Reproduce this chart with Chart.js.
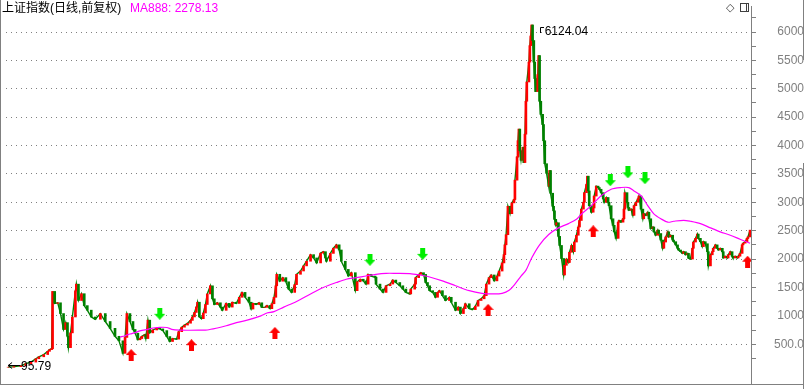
<!DOCTYPE html>
<html><head><meta charset="utf-8">
<script src="https://cdn.jsdelivr.net/npm/chart.js@4.4.1/dist/chart.umd.min.js"></script>
<style>html,body{margin:0;padding:0;background:#fff;overflow:hidden}</style>
</head><body>
<canvas id="c" width="804" height="389"></canvas>
<script>
// ---- data ----
const titleText = '上证指数(日线,前复权)';
const maName = 'MA888';
const dates = [
1990.53,1990.72,1990.95,1991.11,1991.28,1991.44,1991.54,1991.70,1991.83,1991.89,
1991.96,1991.99,1992.06,1992.16,1992.25,1992.35,1992.42,1992.48,1992.51,1992.58,
1992.64,1992.74,1992.77,1992.84,1992.94,1993.03,1993.13,1993.26,1993.39,1993.56,
1993.72,1993.88,1994.04,1994.17,1994.30,1994.37,1994.43,1994.53,1994.63,1994.70,
1994.79,1994.86,1994.92,1995.02,1995.05,1995.12,1995.18,1995.28,1995.41,1995.51,
1995.61,1995.74,1995.84,1995.93,1996.06,1996.13,1996.23,1996.32,1996.42,1996.52,
1996.58,1996.65,1996.71,1996.75,1996.81,1996.88,1996.94,1997.01,1997.07,1997.17,
1997.24,1997.30,1997.40,1997.50,1997.56,1997.69,1997.79,1997.89,1998.02,1998.12,
1998.21,1998.31,1998.44,1998.51,1998.57,1998.67,1998.77,1998.86,1998.96,1999.03,
1999.13,1999.19,1999.26,1999.32,1999.35,1999.45,1999.55,1999.65,1999.74,1999.84,
1999.94,2000.00,2000.13,2000.23,2000.33,2000.46,2000.56,2000.66,2000.79,2000.88,
2000.95,2000.98,2001.11,2001.21,2001.31,2001.40,2001.47,2001.60,2001.70,2001.80,
2001.93,2001.99,2002.09,2002.19,2002.28,2002.35,2002.45,2002.58,2002.61,2002.74,
2002.84,2002.94,2003.07,2003.16,2003.26,2003.39,2003.49,2003.59,2003.72,2003.75,
2003.88,2003.91,2004.01,2004.08,2004.17,2004.24,2004.30,2004.37,2004.47,2004.56,
2004.63,2004.69,2004.79,2004.89,2005.02,2005.08,2005.22,2005.31,2005.38,2005.48,
2005.54,2005.67,2005.77,2005.87,2005.96,2006.06,2006.16,2006.23,2006.32,2006.39,
2006.49,2006.58,2006.65,2006.75,2006.81,2006.84,2006.88,2006.94,2007.01,2007.07,
2007.14,2007.17,2007.24,2007.27,2007.30,2007.33,2007.37,2007.43,2007.46,2007.50,
2007.53,2007.56,2007.63,2007.66,2007.69,2007.72,2007.75,2007.79,2007.82,2007.85,
2007.92,2007.95,2007.98,2008.02,2008.08,2008.11,2008.15,2008.21,2008.28,2008.31,
2008.34,2008.41,2008.44,2008.47,2008.51,2008.54,2008.60,2008.64,2008.70,2008.77,
2008.80,2008.86,2008.93,2008.96,2009.03,2009.09,2009.12,2009.19,2009.25,2009.29,
2009.35,2009.42,2009.45,2009.52,2009.55,2009.58,2009.61,2009.68,2009.74,2009.77,
2009.84,2009.90,2009.94,2010.00,2010.07,2010.10,2010.17,2010.23,2010.26,2010.33,
2010.39,2010.43,2010.49,2010.56,2010.59,2010.65,2010.72,2010.75,2010.78,2010.85,
2010.88,2010.91,2010.98,2011.04,2011.08,2011.14,2011.21,2011.24,2011.31,2011.37,
2011.40,2011.47,2011.53,2011.57,2011.63,2011.70,2011.73,2011.79,2011.86,2011.89,
2011.96,2012.02,2012.06,2012.12,2012.19,2012.22,2012.28,2012.35,2012.38,2012.45,
2012.51,2012.54,2012.61,2012.67,2012.71,2012.77,2012.84,2012.87,2012.93,2013.00,
2013.03,2013.10,2013.16,2013.19,2013.26,2013.32,2013.36,2013.42,2013.49,2013.52,
2013.59,2013.65,2013.68,2013.75,2013.81,2013.85,2013.91,2013.98,2014.01,2014.07,
2014.14,2014.17,2014.24,2014.30,2014.33,2014.40,2014.47,2014.50,2014.56,2014.63,
2014.66,2014.73,2014.79,2014.82,2014.89
];
const closes = [
95.79,105,120,157,185,244,279,318,375,405,
420,1430,1220,1230,1040,760,880,640,440,700,
980,1440,1558,1270,1390,1180,1100,980,940,1040,
900,780,640,560,340,620,1040,900,760,694,
578,600,640,670,600,924,700,751,780,770,
740,635,548,600,590,721,800,837,870,920,
981,1060,1154,1240,981,950,1050,1200,1386,1529,
1300,1200,1230,1154,1097,1220,1154,1240,1218,1327,
1413,1330,1240,1120,1220,1200,1230,1150,1150,1183,
1126,1213,1327,1529,1732,1610,1673,1600,1472,1413,
1550,1732,1790,1880,1962,2078,2020,1932,2105,2130,
2020,1962,2100,2192,2251,2160,1962,1818,1702,1760,
1443,1600,1645,1616,1559,1732,1700,1680,1559,1472,
1413,1530,1560,1630,1587,1530,1472,1413,1386,1470,
1559,1673,1730,1760,1730,1587,1530,1443,1413,1327,
1413,1443,1356,1270,1327,1240,1097,1154,1040,1126,
1213,1126,1110,1170,1270,1300,1356,1559,1673,1720,
1616,1700,1789,1932,2078,2251,2429,2930,2800,2990,
3050,3390,3800,4085,4290,3910,3740,3970,3700,4200,
4780,5120,5470,5760,5930,6124.04,5850,5470,5180,4950,
5250,5585,4780,4550,4370,4085,3680,3510,3280,3560,
3160,2930,2850,2700,2600,2640,2400,2240,2010,1720,
1890,2000,1940,2120,2240,2130,2300,2420,2565,2680,
2880,3000,3170,3315,3460,3200,2940,2825,2900,3110,
3285,3260,3230,3170,3060,3000,3085,3000,2940,2710,
2595,2480,2365,2650,2680,2650,2710,2880,3170,3000,
2910,2860,2880,2770,2940,3000,3060,3110,2880,2710,
2800,2770,2825,2710,2535,2565,2480,2420,2510,2450,
2335,2190,2300,2390,2480,2390,2420,2335,2306,2250,
2190,2160,2130,2100,2130,2075,2100,2015,2000,2190,
2300,2365,2440,2365,2306,2220,2306,2270,2130,1880,
2075,2130,2190,2250,2190,2160,2190,2130,2020,2050,
2020,2075,2130,2050,2020,2050,2020,2050,2100,2250,
2280,2305,2365,2390,2510
];
const maDates = [
1994.21,1994.37,1994.53,1994.70,1994.86,1995.12,1995.35,1995.51,1995.74,1995.90,
1996.16,1996.49,1996.81,1997.07,1997.40,1997.69,1997.95,1998.38,1998.83,1999.03,
1999.26,1999.58,2000.00,2000.46,2000.88,2001.31,2001.63,2001.96,2002.28,2002.61,
2002.94,2003.26,2003.72,2004.04,2004.37,2004.79,2005.22,2005.67,2006.09,2006.42,
2006.75,2006.98,2007.17,2007.37,2007.53,2007.72,2007.98,2008.28,2008.60,2008.93,
2009.19,2009.35,2009.68,2010.00,2010.33,2010.65,2010.91,2011.08,2011.31,2011.53,
2011.73,2011.96,2012.19,2012.38,2012.71,2012.93,2013.26,2013.59,2013.91,2014.24,
2014.56,2014.89
];
const ma888 = [
625,650,680,705,735,763,790,798,795,763,
748,746,748,751,786,825,867,924,1000,1050,
1075,1154,1253,1386,1500,1587,1645,1673,1702,1732,
1749,1749,1745,1720,1685,1616,1530,1443,1396,1386,
1395,1450,1559,1700,1800,2020,2251,2434,2550,2625,
2700,2790,2942,3115,3230,3260,3260,3200,3115,2942,
2797,2710,2650,2666,2683,2666,2625,2550,2480,2420,
2350,2278.13
];
const buyDates = [1994.57, 1996.55, 1999.29, 2006.29, 2009.74, 2014.81];
const buyLevels = [310, 483, 699, 1106, 2490, 1953];
const sellDates = [1995.51, 2002.41, 2004.14, 2010.30, 2010.88, 2011.44];
const sellLevels = [1036, 1988, 2092, 3389, 3528, 3424];
const yMajorTicks = [500,1000,1500,2000,2500,3000,3500,4000,4500,5000,5500,6000];
const yMinorTicks = [250,750,1250,1750,2250,2750,3250,3750,4250,4750,5250,5750,6250];

// ---- styles ----
const UP = '#ff0000', DOWN = '#008000', MA_COLOR = '#ff00ff', AXIS = '#808080';
const FONT = '"Liberation Sans", Arial, "Noto Sans CJK SC", sans-serif';

function makeArrow(color, up) {
  const c = document.createElement('canvas');
  c.width = 11; c.height = 12;
  const g = c.getContext('2d');
  g.fillStyle = color;
  g.beginPath();
  if (up) { g.moveTo(5.5, 0); g.lineTo(11, 6); g.lineTo(0, 6); g.closePath(); g.fill(); g.fillRect(3, 6, 5, 6); }
  else { g.moveTo(5.5, 12); g.lineTo(11, 6); g.lineTo(0, 6); g.closePath(); g.fill(); g.fillRect(3, 0, 5, 6); }
  return c;
}
const upArrow = makeArrow('#ff0000', true);
const downArrow = makeArrow('#00ee00', false);

const pricePts = dates.map((d, i) => ({ x: d, y: closes[i] }));
const candlePts = dates.map((d, i) => {
  const p = i ? closes[i - 1] : closes[i];
  return { x: d, y: [Math.min(p, closes[i]), Math.max(p, closes[i])] };
});
const candleColors = closes.map((v, i) => (i && v < closes[i - 1]) ? DOWN : UP);

const overlay = {
  id: 'overlay',
  afterDatasetsDraw(chart) {
    const ctx = chart.ctx, xs = chart.scales.x, ys = chart.scales.y;
    ctx.save();
    // frame
    ctx.strokeStyle = AXIS; ctx.lineWidth = 1;
    ctx.beginPath();
    ctx.moveTo(0.5, 0); ctx.lineTo(0.5, 384);
    ctx.moveTo(0, 384.5); ctx.lineTo(804, 384.5);
    ctx.moveTo(803.5, 0); ctx.lineTo(803.5, 60);
    ctx.moveTo(803.5, 163); ctx.lineTo(803.5, 389);
    ctx.stroke();
    // title
    ctx.textBaseline = 'middle'; ctx.textAlign = 'left';
    ctx.font = '12px ' + FONT;
    ctx.fillStyle = '#000';
    ctx.fillText(titleText, 2, 9);
    ctx.fillStyle = MA_COLOR;
    ctx.fillText(maName + ': ' + ma888[ma888.length - 1].toFixed(2), 130, 9);
    // icons top right
    ctx.fillStyle = '#404040';
    ctx.font = '11px "DejaVu Sans", sans-serif';
    ctx.fillText('◇', 726, 8);
    ctx.strokeStyle = '#404040';
    ctx.strokeRect(740.5, 3.5, 8, 8);
    ctx.beginPath(); ctx.moveTo(746.5, 3.5); ctx.lineTo(746.5, 11.5); ctx.stroke();
    // peak label
    let hi = 0, lo = 0;
    closes.forEach((v, i) => { if (v > closes[hi]) hi = i; if (v < closes[lo]) lo = i; });
    let px = xs.getPixelForValue(dates[hi]), py = ys.getPixelForValue(closes[hi]);
    ctx.strokeStyle = '#000'; ctx.lineWidth = 1;
    ctx.beginPath();
    ctx.moveTo(Math.round(px + 8) + 0.5, Math.round(py + 8));
    ctx.lineTo(Math.round(px + 8) + 0.5, Math.round(py + 2) + 0.5);
    ctx.lineTo(Math.round(px + 12), Math.round(py + 2) + 0.5);
    ctx.stroke();
    ctx.fillStyle = '#000';
    ctx.font = '12px ' + FONT;
    ctx.fillText(closes[hi].toFixed(2), px + 13, py + 7);
    // low label
    px = xs.getPixelForValue(dates[lo]); py = ys.getPixelForValue(closes[lo]);
    const ay = Math.round(py - 2) + 0.5;
    ctx.beginPath();
    ctx.moveTo(px, ay); ctx.lineTo(px + 12, ay);
    ctx.moveTo(px, ay); ctx.lineTo(px + 4, ay - 3);
    ctx.moveTo(px, ay); ctx.lineTo(px + 4, ay + 3);
    ctx.stroke();
    ctx.fillText(closes[lo].toFixed(2), px + 13, py);
    ctx.restore();
  }
};

new Chart(document.getElementById('c'), {
  type: 'line',
  data: {
    datasets: [
      { type: 'scatter', label: 'buy', data: buyDates.map((d, i) => ({ x: d, y: buyLevels[i] })),
        pointStyle: upArrow, pointRadius: 5, order: 0 },
      { type: 'scatter', label: 'sell', data: sellDates.map((d, i) => ({ x: d, y: sellLevels[i] })),
        pointStyle: downArrow, pointRadius: 5, order: 0 },
      { type: 'line', label: maName, data: maDates.map((d, i) => ({ x: d, y: ma888[i] })),
        borderColor: MA_COLOR, borderWidth: 1.2, pointRadius: 0, tension: 0.3, order: 1 },
      { type: 'bar', label: 'candle', data: candlePts, backgroundColor: candleColors,
        barThickness: 2, order: 2 },
      { type: 'line', label: 'close', data: pricePts, borderWidth: 1.4, pointRadius: 0, tension: 0,
        borderColor: DOWN, order: 3 }
    ]
  },
  options: {
    responsive: false, animation: false, devicePixelRatio: 1,
    layout: { padding: { left: 0, right: 0, top: 0, bottom: 5 } },
    plugins: { legend: { display: false }, tooltip: { enabled: false } },
    scales: {
      x: { type: 'linear', display: false, min: 1990.461, max: 2014.921, offset: false },
      y: {
        position: 'right', min: -183, max: 6458,
        afterBuildTicks: s => { s.ticks = yMajorTicks.concat(yMinorTicks).sort((a, b) => a - b).map(v => ({ value: v })); },
        afterFit: s => { s.width = 53; s.paddingTop = 0; s.paddingBottom = 0; },
        grid: {
          color: c => (c.tick && yMajorTicks.includes(c.tick.value)) ? AXIS : 'rgba(0,0,0,0)',
          lineWidth: 1, drawTicks: true, tickLength: 5, tickColor: AXIS, tickWidth: 1
        },
        border: { display: true, color: AXIS, width: 1, dash: [1, 4] },
        ticks: {
          autoSkip: false, crossAlign: 'far', padding: 13, color: AXIS,
          font: { family: FONT, size: 12 },
          callback: v => yMajorTicks.includes(v) ? (v === 500 ? '500.0' : String(v)) : ''
        }
      }
    }
  },
  plugins: [overlay]
});
</script>
</body></html>
